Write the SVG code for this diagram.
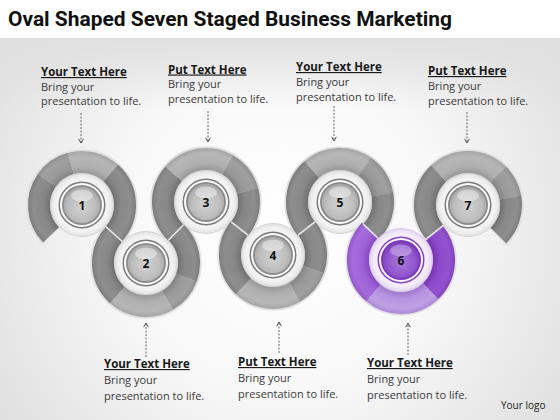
<svg xmlns="http://www.w3.org/2000/svg" xmlns:xlink="http://www.w3.org/1999/xlink" width="560" height="420" viewBox="0 0 560 420">
<style>
.title{font-family:Roboto,"Liberation Sans",sans-serif;font-weight:bold;font-size:21px;fill:#111}
.hd{font-family:"Open Sans","Liberation Sans",sans-serif;font-weight:bold;font-size:11.5px;fill:#1a1a1a;text-decoration:underline}
.bd{font-family:"Open Sans","Liberation Sans",sans-serif;font-size:11px;fill:#3a3a3a}
.num{font-family:"Open Sans","Liberation Sans",sans-serif;font-weight:bold;font-size:12px;fill:#111;text-anchor:middle}
.seg{fill:none;stroke-width:22}
.halo{fill:none;stroke:#e0e0e0;stroke-width:25.5}
.arr{fill:none;stroke:#555;stroke-width:0.9;stroke-dasharray:2 1.5;marker-end:url(#ah)}
.jn{stroke:#e9e9e9;stroke-width:1.6}
.logo{font-family:"Open Sans","Liberation Sans",sans-serif;font-size:10px;fill:#222}
</style>
<defs>
<radialGradient id="bg" cx="280" cy="230" r="360" gradientUnits="userSpaceOnUse">
<stop offset="0" stop-color="#ffffff"/><stop offset="0.45" stop-color="#f8f8f8"/><stop offset="1" stop-color="#dcdcdc"/>
</radialGradient>
<linearGradient id="topband" x1="0" y1="0" x2="0" y2="1">
<stop offset="0" stop-color="#e0e0e0" stop-opacity="1"/><stop offset="1" stop-color="#e0e0e0" stop-opacity="0"/>
</linearGradient>
<radialGradient id="gD" cx="0" cy="0" r="54" gradientUnits="userSpaceOnUse">
<stop offset="0.593" stop-color="#717171"/><stop offset="0.72" stop-color="#878787"/><stop offset="0.9" stop-color="#8e8e8e"/><stop offset="1" stop-color="#7d7d7d"/>
</radialGradient>
<radialGradient id="gM" cx="0" cy="0" r="54" gradientUnits="userSpaceOnUse">
<stop offset="0.593" stop-color="#838383"/><stop offset="0.72" stop-color="#999"/><stop offset="0.9" stop-color="#a0a0a0"/><stop offset="1" stop-color="#8f8f8f"/>
</radialGradient>
<radialGradient id="gL" cx="0" cy="0" r="54" gradientUnits="userSpaceOnUse">
<stop offset="0.593" stop-color="#989898"/><stop offset="0.72" stop-color="#afafaf"/><stop offset="0.9" stop-color="#b6b6b6"/><stop offset="1" stop-color="#a5a5a5"/>
</radialGradient>
<radialGradient id="pD" cx="0" cy="0" r="54" gradientUnits="userSpaceOnUse">
<stop offset="0.593" stop-color="#7633b2"/><stop offset="0.72" stop-color="#8c4aca"/><stop offset="0.9" stop-color="#9353cf"/><stop offset="1" stop-color="#8343bf"/>
</radialGradient>
<radialGradient id="pM" cx="0" cy="0" r="54" gradientUnits="userSpaceOnUse">
<stop offset="0.593" stop-color="#8848c2"/><stop offset="0.72" stop-color="#9e62d7"/><stop offset="0.9" stop-color="#a56cdb"/><stop offset="1" stop-color="#9457cb"/>
</radialGradient>
<radialGradient id="pL" cx="0" cy="0" r="54" gradientUnits="userSpaceOnUse">
<stop offset="0.593" stop-color="#9f78cf"/><stop offset="0.72" stop-color="#b794e0"/><stop offset="0.9" stop-color="#bea0e4"/><stop offset="1" stop-color="#ac87d9"/>
</radialGradient>
<radialGradient id="discW" cx="0.5" cy="0.5" r="0.5">
<stop offset="0" stop-color="#fbfbfb"/><stop offset="0.85" stop-color="#f2f2f2"/><stop offset="1" stop-color="#e2e2e2"/>
</radialGradient>
<radialGradient id="discP" cx="0.5" cy="0.5" r="0.5">
<stop offset="0" stop-color="#fbf8fe"/><stop offset="0.85" stop-color="#f3ecfa"/><stop offset="1" stop-color="#e3d6f2"/>
</radialGradient>
<radialGradient id="coreG" cx="0.5" cy="0.55" r="0.55">
<stop offset="0" stop-color="#d2d2d2"/><stop offset="0.7" stop-color="#bdbdbd"/><stop offset="1" stop-color="#a4a4a4"/>
</radialGradient>
<radialGradient id="coreP" cx="0.5" cy="0.55" r="0.55">
<stop offset="0" stop-color="#a878da"/><stop offset="0.7" stop-color="#9156cf"/><stop offset="1" stop-color="#7b3cba"/>
</radialGradient>
<g id="medG">
<circle r="31.5" fill="url(#discW)" stroke="#cdcdcd" stroke-width="0.8"/>
<circle r="23.5" fill="#7a7a7a"/>
<circle r="22" fill="#fbfbfb"/>
<circle r="20" fill="#8a8a8a"/>
<circle r="18.3" fill="url(#coreG)"/>
<ellipse cx="0" cy="-9.5" rx="11" ry="6" fill="#fff" opacity="0.4"/>
</g>
<g id="medP">
<circle r="31.5" fill="url(#discP)" stroke="#d4c2ea" stroke-width="0.8"/>
<circle r="23.5" fill="#8643c4"/>
<circle r="22" fill="#fbf8fe"/>
<circle r="20" fill="#7a39b7"/>
<circle r="18.3" fill="url(#coreP)"/>
<ellipse cx="0" cy="-9.5" rx="11" ry="6" fill="#fff" opacity="0.3"/>
</g>
<marker id="ah" viewBox="0 0 6 6" refX="5.2" refY="3" markerWidth="6" markerHeight="6" markerUnits="userSpaceOnUse" orient="auto">
<path d="M1,0.6 L5.2,3 L1,5.4" fill="none" stroke="#444" stroke-width="0.9"/>
</marker>
</defs>

<rect x="0" y="0" width="560" height="420" fill="url(#bg)"/>
<rect x="0" y="38" width="560" height="70" fill="url(#topband)"/>
<rect x="0" y="0" width="560" height="38" fill="#ffffff"/>

<text class="title" x="8" y="26" textLength="444" lengthAdjust="spacingAndGlyphs">Oval Shaped Seven Staged Business Marketing</text>

<g id="ring-halos">
<circle class="halo" r="43" transform="translate(82,205) rotate(135.5)" stroke-dasharray="200.5 300"/>
<circle class="halo" r="43" transform="translate(146,263) rotate(-45.47)" stroke-dasharray="200.9 300"/>
<circle class="halo" r="43" transform="translate(206,202) rotate(134.53)" stroke-dasharray="198.1 300"/>
<circle class="halo" r="43" transform="translate(273,255) rotate(-38.34)" stroke-dasharray="192.6 300"/>
<circle class="halo" r="43" transform="translate(340,202) rotate(141.66)" stroke-dasharray="195.1 300"/>
<circle class="halo" r="43" transform="translate(401,260) rotate(-39.38)" stroke-dasharray="197.3 300"/>
<circle class="halo" r="43" transform="translate(468,205) rotate(140.62)" stroke-dasharray="199.5 300"/>
</g>

<g id="node-1" transform="translate(82,205)">
<circle class="seg" r="43" stroke="url(#gD)" transform="rotate(136)" stroke-dasharray="59.29 300"/>
<circle class="seg" r="43" stroke="url(#gM)" transform="rotate(215)" stroke-dasharray="30.02 300"/>
<circle class="seg" r="43" stroke="url(#gL)" transform="rotate(255)" stroke-dasharray="42.78 300"/>
<circle class="seg" r="43" stroke="url(#gD)" transform="rotate(312)" stroke-dasharray="67.68 300"/>
<use xlink:href="#medG"/>
<text class="num" x="0" y="4.5">1</text>
</g>

<g id="node-2" transform="translate(146,263)">
<circle class="seg" r="43" stroke="url(#gD)" transform="rotate(-45.47)" stroke-dasharray="49.13 300"/>
<circle class="seg" r="43" stroke="url(#gM)" transform="rotate(20)" stroke-dasharray="30.02 300"/>
<circle class="seg" r="43" stroke="url(#gL)" transform="rotate(60)" stroke-dasharray="54.04 300"/>
<circle class="seg" r="43" stroke="url(#gD)" transform="rotate(132)" stroke-dasharray="67.68 300"/>
<use xlink:href="#medG"/>
<text class="num" x="0" y="4.5">2</text>
</g>

<g id="node-3" transform="translate(206,202)">
<circle class="seg" r="43" stroke="url(#gD)" transform="rotate(134.53)" stroke-dasharray="64.89 300"/>
<circle class="seg" r="43" stroke="url(#gL)" transform="rotate(221)" stroke-dasharray="59.29 300"/>
<circle class="seg" r="43" stroke="url(#gM)" transform="rotate(300)" stroke-dasharray="33.77 300"/>
<circle class="seg" r="43" stroke="url(#gD)" transform="rotate(345)" stroke-dasharray="40.03 300"/>
<use xlink:href="#medG"/>
<text class="num" x="0" y="4.5">3</text>
</g>

<g id="node-4" transform="translate(273,255)">
<circle class="seg" r="43" stroke="url(#gD)" transform="rotate(-38.34)" stroke-dasharray="43.78 300"/>
<circle class="seg" r="43" stroke="url(#gM)" transform="rotate(20)" stroke-dasharray="30.02 300"/>
<circle class="seg" r="43" stroke="url(#gL)" transform="rotate(60)" stroke-dasharray="55.16 300"/>
<circle class="seg" r="43" stroke="url(#gD)" transform="rotate(133.5)" stroke-dasharray="63.67 300"/>
<use xlink:href="#medG"/>
<text class="num" x="0" y="4.5">4</text>
</g>

<g id="node-5" transform="translate(340,202)">
<circle class="seg" r="43" stroke="url(#gD)" transform="rotate(141.66)" stroke-dasharray="65.55 300"/>
<circle class="seg" r="43" stroke="url(#gL)" transform="rotate(229)" stroke-dasharray="57.04 300"/>
<circle class="seg" r="43" stroke="url(#gM)" transform="rotate(305)" stroke-dasharray="33.77 300"/>
<circle class="seg" r="43" stroke="url(#gD)" transform="rotate(350)" stroke-dasharray="40.20 300"/>
<use xlink:href="#medG"/>
<text class="num" x="0" y="4.5">5</text>
</g>

<g id="node-6" transform="translate(401,260)">
<circle class="seg" r="43" stroke="url(#pD)" transform="rotate(-39.38)" stroke-dasharray="64.45 300"/>
<circle class="seg" r="43" stroke="url(#pL)" transform="rotate(46.5)" stroke-dasharray="62.67 300"/>
<circle class="seg" r="43" stroke="url(#pM)" transform="rotate(130)" stroke-dasharray="70.22 300"/>
<use xlink:href="#medP"/>
<text class="num" x="0" y="4.5">6</text>
</g>

<g id="node-7" transform="translate(468,205)">
<circle class="seg" r="43" stroke="url(#gD)" transform="rotate(140.62)" stroke-dasharray="64.83 300"/>
<circle class="seg" r="43" stroke="url(#gL)" transform="rotate(227)" stroke-dasharray="66.04 300"/>
<circle class="seg" r="43" stroke="url(#gM)" transform="rotate(315)" stroke-dasharray="26.27 300"/>
<circle class="seg" r="43" stroke="url(#gD)" transform="rotate(350)" stroke-dasharray="41.28 300"/>
<use xlink:href="#medG"/>
<text class="num" x="0" y="4.5">7</text>
</g>

<g id="junctions">
<line class="jn" x1="105.7" y1="226.5" x2="122.3" y2="241.5"/>
<line class="jn" x1="168.4" y1="240.2" x2="183.6" y2="224.8"/>
<line class="jn" x1="231.1" y1="221.9" x2="247.9" y2="235.2"/>
<line class="jn" x1="298.1" y1="235.1" x2="314.9" y2="221.9"/>
<line class="jn" x1="363.2" y1="224.1" x2="377.8" y2="238.0"/>
<line class="jn" x1="425.7" y1="239.7" x2="443.3" y2="225.3"/>
</g>

<g id="connectors">
<line class="arr" x1="81" y1="113" x2="81" y2="143"/>
<line class="arr" x1="208" y1="111" x2="208" y2="142"/>
<line class="arr" x1="334" y1="106" x2="334" y2="141"/>
<line class="arr" x1="467" y1="112" x2="467" y2="143"/>
<line class="arr" x1="146" y1="357" x2="146" y2="323"/>
<line class="arr" x1="279" y1="353" x2="279" y2="322"/>
<line class="arr" x1="408" y1="355" x2="408" y2="323"/>
</g>

<g id="label-1">
<text class="hd" x="41" y="76">Your Text Here</text>
<text class="bd" x="41" y="90.5">Bring your</text>
<text class="bd" x="41" y="105">presentation to life.</text>
</g>
<g id="label-3">
<text class="hd" x="168" y="73.5">Put Text Here</text>
<text class="bd" x="168" y="88">Bring your</text>
<text class="bd" x="168" y="102.5">presentation to life.</text>
</g>
<g id="label-5">
<text class="hd" x="296" y="71">Your Text Here</text>
<text class="bd" x="296" y="86">Bring your</text>
<text class="bd" x="296" y="100.5">presentation to life.</text>
</g>
<g id="label-7">
<text class="hd" x="428" y="75">Put Text Here</text>
<text class="bd" x="428" y="90">Bring your</text>
<text class="bd" x="428" y="104.5">presentation to life.</text>
</g>
<g id="label-2">
<text class="hd" x="104" y="368">Your Text Here</text>
<text class="bd" x="104" y="384">Bring your</text>
<text class="bd" x="104" y="399.5">presentation to life.</text>
</g>
<g id="label-4">
<text class="hd" x="238" y="366">Put Text Here</text>
<text class="bd" x="238" y="382">Bring your</text>
<text class="bd" x="238" y="397.5">presentation to life.</text>
</g>
<g id="label-6">
<text class="hd" x="367" y="367">Your Text Here</text>
<text class="bd" x="367" y="383">Bring your</text>
<text class="bd" x="367" y="398.5">presentation to life.</text>
</g>

<text class="logo" x="501" y="409">Your logo</text>
</svg>
